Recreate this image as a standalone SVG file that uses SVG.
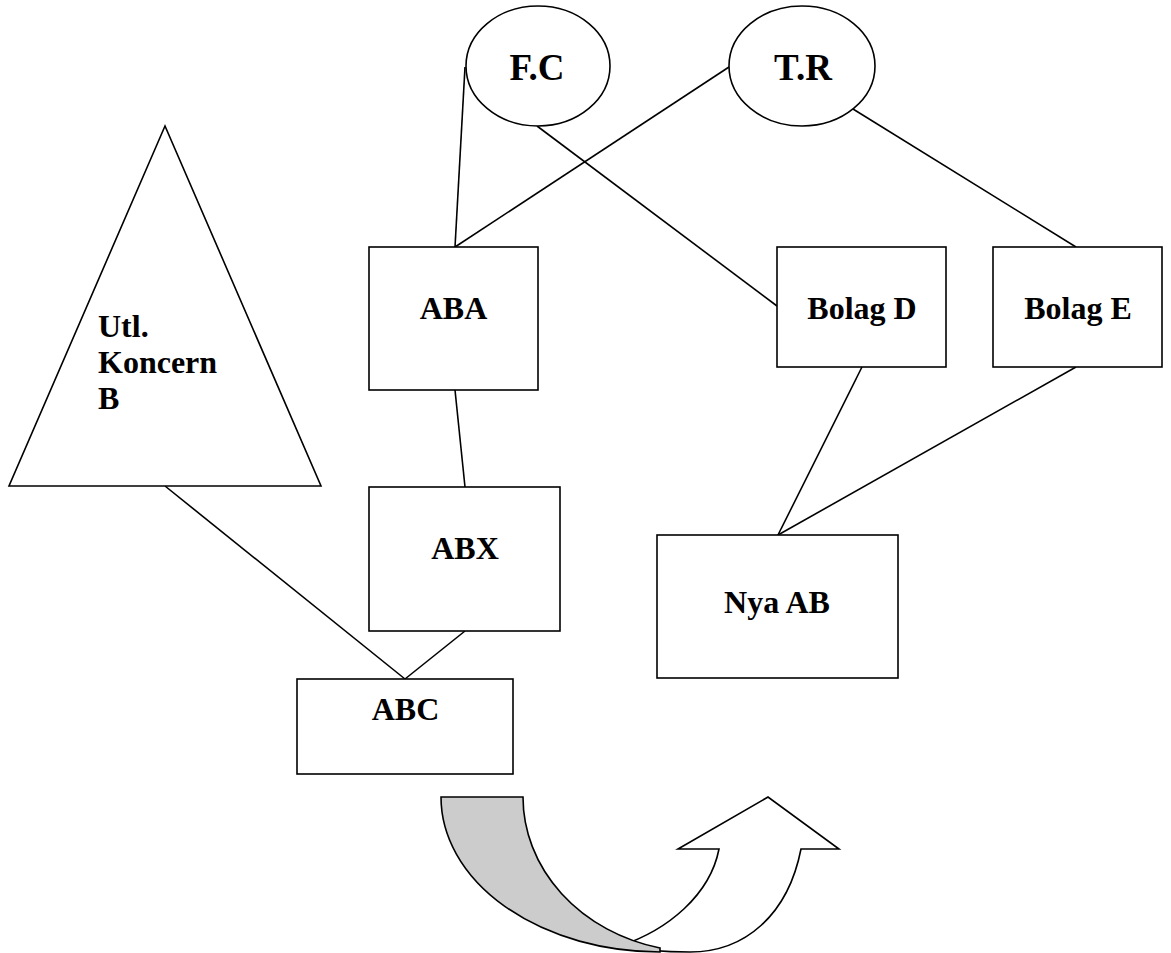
<svg xmlns="http://www.w3.org/2000/svg" width="1171" height="953" viewBox="0 0 1171 953">
<style>
.s{fill:#fff;stroke:#000;stroke-width:1.6}
.c line{stroke:#000;stroke-width:1.6}
.t{font-family:"Liberation Serif","Times New Roman",serif;font-weight:bold;font-size:32px;fill:#000}
.e{font-size:37px}
</style>
<rect width="1171" height="953" fill="#fff"/>
<g id="connectors" class="c">
<line x1="465" y1="67" x2="455" y2="247"/>
<line x1="729" y1="67" x2="455" y2="247"/>
<line x1="537" y1="126" x2="777" y2="306"/>
<line x1="853" y1="109" x2="1076" y2="247"/>
<line x1="455" y1="390" x2="465" y2="487"/>
<line x1="465" y1="631" x2="405" y2="679"/>
<line x1="165" y1="486" x2="405" y2="679"/>
<line x1="862" y1="367" x2="778" y2="535"/>
<line x1="1076" y1="367" x2="778" y2="535"/>
</g>
<g id="fc"><ellipse class="s" cx="538" cy="66" rx="72" ry="60"/><text class="t e" x="537" y="80" text-anchor="middle">F.C</text></g>
<g id="tr"><ellipse class="s" cx="802" cy="66" rx="73" ry="60"/><text class="t e" x="803" y="80" text-anchor="middle">T.R</text></g>
<g id="koncern"><polygon class="s" points="165,126 9,486 321,486"/>
<text class="t" x="98" y="337">Utl.</text>
<text class="t" x="98" y="373">Koncern</text>
<text class="t" x="98" y="409">B</text></g>
<g id="aba"><rect class="s" x="369" y="247" width="169" height="143"/><text class="t" x="453.5" y="319" text-anchor="middle">ABA</text></g>
<g id="bolagd"><rect class="s" x="777" y="247" width="169" height="120"/><text class="t" x="862" y="319" text-anchor="middle">Bolag D</text></g>
<g id="bolage"><rect class="s" x="993" y="247" width="169" height="120"/><text class="t" x="1078" y="319" text-anchor="middle">Bolag E</text></g>
<g id="abx"><rect class="s" x="369" y="487" width="191" height="144"/><text class="t" x="465" y="559" text-anchor="middle">ABX</text></g>
<g id="abc"><rect class="s" x="297" y="679" width="216" height="95"/><text class="t" x="405.5" y="720" text-anchor="middle">ABC</text></g>
<g id="nyaab"><rect class="s" x="657" y="535" width="241" height="143"/><text class="t" x="777" y="613" text-anchor="middle">Nya AB</text></g>
<g id="arrow">
<path class="s" d="M620,946 C668,930 710,895 719,849 L678,849 L768,797 L839,849 L801,849 C788,915 745,952 690,952 C660,952 640,950 620,946 Z"/>
<path class="s" style="fill:#ccc" d="M441,797 L523,797 A177,155 0 0 0 660,948 L660,952 A219,155 0 0 1 441,797 Z"/>
</g>
</svg>
